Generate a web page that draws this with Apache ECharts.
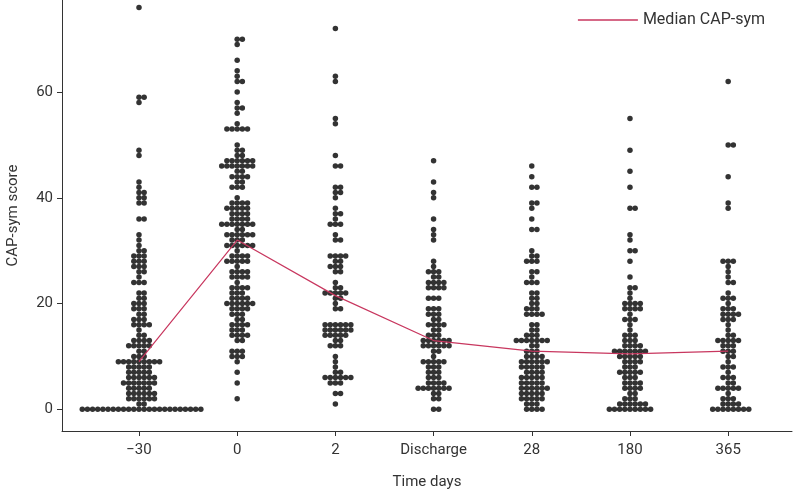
<!DOCTYPE html>
<html>
<head>
<meta charset="utf-8">
<script src="https://cdn.jsdelivr.net/npm/echarts@6/dist/echarts.min.js"></script>
<style>html,body{margin:0;padding:0;background:#fff}#c{width:797px;height:491px}</style>
</head>
<body>
<div id="c"></div>
<script>
// Time points (categories)
var categories = ['\u221230', '0', '2', 'Discharge', '28', '180', '365'];
// Dot counts per CAP-sym score value: [score, number of patients]
var grpM30 = [[0,24],[1,2],[2,6],[3,6],[4,5],[5,7],[6,6],[7,5],[8,5],[9,9],[10,3],[11,2],[12,5],[13,4],[14,2],[15,1],[16,4],[17,3],[18,2],[19,3],[20,3],[21,2],[22,2],[24,3],[25,1],[26,2],[27,3],[28,3],[29,3],[30,2],[31,1],[32,1],[33,1],[36,2],[39,2],[40,2],[41,2],[42,1],[43,1],[48,1],[49,1],[58,1],[59,2],[76,1]];
var grp0 = [[2,1],[5,1],[7,1],[9,1],[10,3],[11,3],[13,2],[14,4],[15,3],[16,4],[17,2],[18,3],[19,4],[20,6],[21,4],[22,3],[23,4],[24,1],[25,4],[26,4],[27,1],[28,5],[29,4],[30,1],[31,6],[32,3],[33,6],[34,2],[35,7],[36,4],[37,4],[38,5],[39,4],[40,1],[42,3],[43,2],[44,4],[45,2],[46,7],[47,6],[48,2],[49,2],[50,1],[53,5],[54,1],[56,1],[57,2],[58,1],[60,1],[62,2],[63,1],[64,1],[66,1],[69,1],[70,2]];
var grp2 = [[1,1],[3,2],[5,3],[6,6],[7,2],[8,1],[9,1],[10,1],[12,3],[13,2],[14,5],[15,6],[16,6],[19,2],[20,1],[21,2],[22,5],[23,2],[24,1],[26,2],[27,3],[28,2],[29,4],[32,2],[33,1],[35,3],[36,1],[37,2],[38,1],[40,1],[41,2],[42,2],[46,2],[48,1],[54,1],[55,1],[62,1],[63,1],[72,1]];
var grpDis = [[0,2],[2,2],[3,2],[4,7],[5,4],[6,3],[7,3],[8,3],[9,5],[10,1],[11,2],[12,6],[13,6],[14,3],[15,2],[16,4],[17,2],[18,3],[19,3],[21,3],[23,4],[24,4],[25,2],[26,3],[27,1],[28,1],[32,1],[33,1],[34,1],[36,1],[40,1],[41,1],[43,1],[47,1]];
var grp28 = [[0,4],[1,3],[2,5],[3,5],[4,6],[5,5],[6,5],[7,4],[8,5],[9,6],[10,4],[11,3],[12,2],[13,7],[14,3],[15,2],[16,2],[18,4],[19,3],[20,2],[21,2],[22,2],[24,3],[25,1],[26,2],[28,3],[29,2],[30,1],[34,2],[36,1],[38,1],[39,2],[42,2],[44,1],[46,1]];
var grp180 = [[0,9],[1,6],[2,3],[3,2],[4,4],[5,4],[6,3],[7,5],[8,3],[9,4],[10,5],[11,7],[12,4],[13,3],[14,3],[15,1],[16,1],[17,3],[18,1],[19,4],[20,4],[21,1],[22,1],[23,2],[25,1],[28,1],[30,2],[32,1],[33,1],[38,2],[42,1],[45,1],[49,1],[55,1]];
var grp365 = [[0,8],[1,4],[2,3],[3,1],[4,5],[5,2],[6,3],[7,1],[8,3],[9,1],[10,2],[11,3],[12,3],[13,5],[14,2],[15,1],[16,1],[17,3],[18,4],[19,3],[20,1],[21,3],[22,1],[24,2],[25,1],[26,1],[27,1],[28,3],[38,1],[39,1],[44,1],[50,2],[62,1]];
// Median CAP-sym per time point
var medians = [9, 32, 21.5, 13, 11, 10.5, 11];
var yTicks = [0, 20, 40, 60];

var groups = [grpM30, grp0, grp2, grpDis, grp28, grp180, grp365];
var dx = 0.0525; // horizontal dot spacing in category units
var dots = [];
groups.forEach(function (g, gi) {
  g.forEach(function (p) {
    for (var k = 0; k < p[1]; k++) {
      var off = Math.ceil(k / 2) * (k % 2 === 1 ? 1 : -1);
      dots.push([gi + off * dx, p[0]]);
    }
  });
});
var medLine = medians.map(function (m, i) { return [i, m]; });

var chart = echarts.init(document.getElementById('c'), null, {renderer: 'canvas'});
var txt = {color: '#333', fontFamily: 'Roboto', fontSize: 15};
chart.setOption({
  animation: false,
  backgroundColor: '#fff',
  grid: {left: 62, right: 5, top: 0, bottom: 60, containLabel: false, outerBoundsMode: 'none'},
  legend: {
    data: [{name: 'Median CAP-sym', icon: 'rect'}], top: 7, right: 27,
    itemWidth: 60, itemHeight: 1.3, itemGap: 10,
    textStyle: {color: '#333', fontFamily: 'Roboto', fontSize: 16}
  },
  xAxis: {
    type: 'value', min: -0.784, max: 6.65,
    name: 'Time days', nameLocation: 'middle', nameGap: 44,
    nameTextStyle: txt,
    axisLine: {show: true, onZero: false, lineStyle: {color: '#333', width: 1}},
    axisTick: {show: true, length: 5, lineStyle: {color: '#333'}, customValues: [0,1,2,3,4,5,6]},
    axisLabel: Object.assign({margin: 12, customValues: [0,1,2,3,4,5,6],
      formatter: function (v) { return categories[Math.round(v)]; }}, txt),
    splitLine: {show: false}
  },
  yAxis: {
    type: 'value', min: -4.1, max: 77.4,
    name: 'CAP-sym score', nameLocation: 'middle', nameGap: 41, nameRotate: 90,
    nameTextStyle: txt,
    axisLine: {show: true, onZero: false, lineStyle: {color: '#333', width: 1}},
    axisTick: {show: true, length: 5, lineStyle: {color: '#333'}, customValues: yTicks},
    axisLabel: Object.assign({margin: 9, customValues: yTicks}, txt),
    splitLine: {show: false}
  },
  series: [
    {
      type: 'scatter', name: 'dots', data: dots, symbolSize: 5.5,
      itemStyle: {color: '#000'}, silent: true, z: 2
    },
    {
      type: 'line', name: 'Median CAP-sym', data: medLine, symbol: 'none',
      lineStyle: {color: '#c8375f', width: 1.2}, itemStyle: {color: '#c8375f'}, z: 3
    }
  ]
});
</script>
</body>
</html>
